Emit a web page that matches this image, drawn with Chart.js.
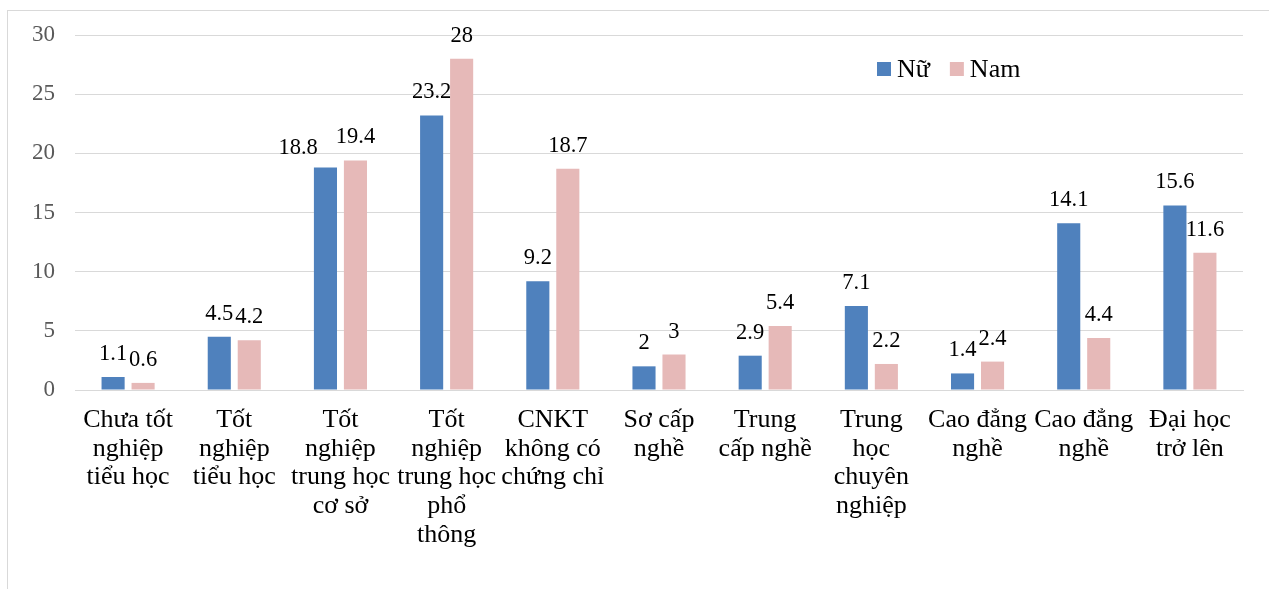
<!DOCTYPE html>
<html lang="vi">
<head>
<meta charset="utf-8">
<title>Trình độ chuyên môn theo giới tính</title>
<script src="https://cdn.jsdelivr.net/npm/chart.js@4.4.1/dist/chart.umd.min.js"></script>
<style>
  html, body { margin: 0; padding: 0; background: #fff; overflow: hidden; }
  #frame {
    position: absolute; left: 7px; top: 10px;
    width: 1300px; height: 620px;
    border: 1px solid #d9d9d9; box-sizing: border-box;
  }
  #wrap { position: absolute; left: 0; top: 0; width: 1269px; height: 589px; }
</style>
</head>
<body>
<div id="frame"></div>
<div id="wrap"><canvas id="chart" width="1269" height="589"></canvas></div>
<script>
// Education / training level categories (wrapped lines)
const categories = [
  ["Chưa tốt", "nghiệp", "tiểu học"],
  ["Tốt", "nghiệp", "tiểu học"],
  ["Tốt", "nghiệp", "trung học", "cơ sở"],
  ["Tốt", "nghiệp", "trung học", "phổ", "thông"],
  ["CNKT", "không có", "chứng chỉ"],
  ["Sơ cấp", "nghề"],
  ["Trung", "cấp nghề"],
  ["Trung", "học", "chuyên", "nghiệp"],
  ["Cao đẳng", "nghề"],
  ["Cao đẳng", "nghề"],
  ["Đại học", "trở lên"]
];

// Percentages by sex
const nuValues  = [1.1, 4.5, 18.8, 23.2, 9.2, 2, 2.9, 7.1, 1.4, 14.1, 15.6];
const namValues = [0.6, 4.2, 19.4, 28, 18.7, 3, 5.4, 2.2, 2.4, 4.4, 11.6];

const seriesNames = ["Nữ", "Nam"];
const yTicks = [0, 5, 10, 15, 20, 25, 30];

const BLUE = "#4f81bd";
const PINK = "#e6b9b8";
const SERIF = "'Liberation Serif', 'Times New Roman', serif";

// Value labels above every bar; a left label that would collide with
// its right-hand neighbour is moved further left.
const valueLabels = {
  id: "valueLabels",
  afterDatasetsDraw(chart) {
    const ctx = chart.ctx;
    ctx.save();
    ctx.font = "22.5px " + SERIF;
    ctx.fillStyle = "#000";
    ctx.textAlign = "center";
    ctx.textBaseline = "alphabetic";
    const metaA = chart.getDatasetMeta(0);
    const metaB = chart.getDatasetMeta(1);
    const dsA = chart.data.datasets[0].data;
    const dsB = chart.data.datasets[1].data;
    metaA.data.forEach((barA, j) => {
      const barB = metaB.data[j];
      const tA = String(dsA[j]);
      const tB = String(dsB[j]);
      const wA = ctx.measureText(tA).width;
      const wB = ctx.measureText(tB).width;
      let xA = barA.x;
      let yA = barA.y - 17;
      const xB = barB.x;
      const yB = barB.y - 17;
      const rightA = xA + wA / 2;
      const leftB = xB - wB / 2;
      if (rightA > leftB && Math.abs(yA - yB) < 16) {
        xA = leftB - 18 - wA / 2;
        yA = barA.y - 14;
      }
      ctx.fillText(tA, xA, yA);
      ctx.fillText(tB, xB, yB);
    });
    ctx.restore();
  }
};

// Legend drawn inside the plot area, upper right
const innerLegend = {
  id: "innerLegend",
  afterDraw(chart) {
    const ctx = chart.ctx;
    const area = chart.chartArea;
    let x = area.right - 366;
    const y = area.top + 27;
    ctx.save();
    ctx.font = "26px " + SERIF;
    ctx.textBaseline = "middle";
    ctx.textAlign = "left";
    chart.data.datasets.forEach((ds) => {
      ctx.fillStyle = ds.backgroundColor;
      ctx.fillRect(x, y, 14, 14);
      ctx.fillStyle = "#000";
      ctx.fillText(ds.label, x + 20, y + 8);
      x += 20 + ctx.measureText(ds.label).width + 20;
    });
    ctx.restore();
  }
};

new Chart(document.getElementById("chart"), {
  type: "bar",
  data: {
    labels: categories,
    datasets: [
      { label: seriesNames[0], data: nuValues, backgroundColor: BLUE,
        categoryPercentage: 0.565, barPercentage: 0.77 },
      { label: seriesNames[1], data: namValues, backgroundColor: PINK,
        categoryPercentage: 0.565, barPercentage: 0.77 }
    ]
  },
  options: {
    responsive: false,
    animation: false,
    layout: { padding: { top: 35, right: 26, left: 0, bottom: 0 } },
    plugins: {
      legend: { display: false },
      tooltip: { enabled: false }
    },
    scales: {
      x: {
        grid: { display: false, drawTicks: false },
        border: { color: "#d9d9d9", width: 1 },
        ticks: {
          color: "#000",
          font: { family: SERIF, size: 26, lineHeight: 1.1 },
          padding: 16,
          maxRotation: 0,
          minRotation: 0,
          autoSkip: false
        },
        afterFit(scale) { scale.height = 199; }
      },
      y: {
        min: 0,
        max: 30,
        afterBuildTicks(scale) { scale.ticks = yTicks.map(v => ({ value: v })); },
        grid: { color: "#d9d9d9", lineWidth: 1, drawTicks: false },
        border: { display: false },
        ticks: {
          color: "#595959",
          font: { family: SERIF, size: 23 },
          padding: 20
        },
        afterFit(scale) { scale.width = 75; }
      }
    }
  },
  plugins: [valueLabels, innerLegend]
});
</script>
</body>
</html>
